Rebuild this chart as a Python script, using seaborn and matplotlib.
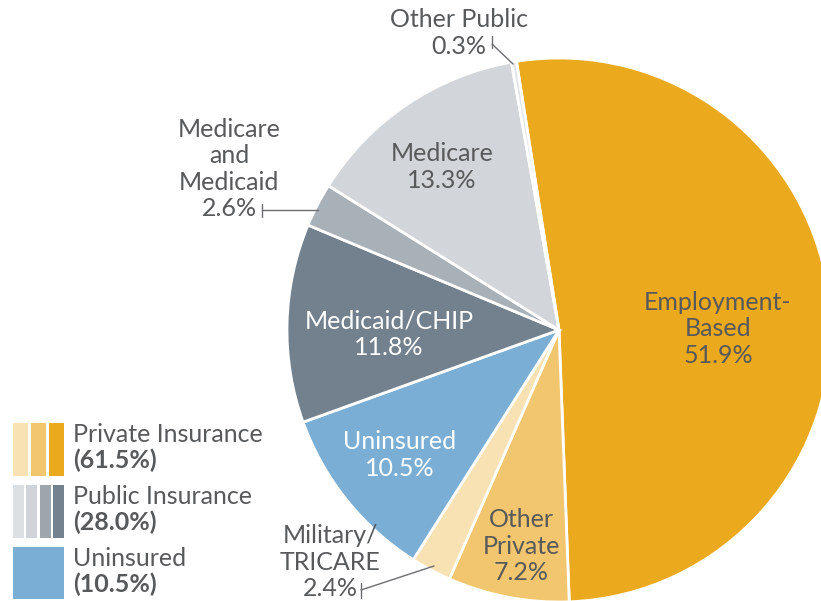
import matplotlib
matplotlib.use("Agg")
import matplotlib.pyplot as plt
import seaborn as sns

# coverage shares (%)
categories = ["Employment-\nBased", "Other\nPrivate", "Military/\nTRICARE", "Uninsured",
              "Medicaid/CHIP", "Medicare\nand\nMedicaid", "Medicare", "Other Public"]
shares = [51.9, 7.2, 2.4, 10.5, 11.8, 2.6, 13.3, 0.3]

groups = ["Private Insurance", "Public Insurance", "Uninsured"]
group_shares = [61.5, 28.0, 10.5]

slice_colors = ["#EBA91E", "#F2C66E", "#F8E1B3", "#7BAED4",
                "#73818E", "#A8B0B8", "#D2D5D9", "#E3E5E8"]
group_colors = [["#F8E1B3", "#F2C66E", "#EBA91E"],
                ["#DDE0E3", "#D0D3D7", "#9DA5AD", "#74828F"],
                ["#7BAED4"]]

sns.set_theme(style="white")
plt.rcParams["font.family"] = ["Lato", "DejaVu Sans"]
TXT = "#58595B"
W, H = 821, 601

fig = plt.figure(figsize=(W / 100, H / 100), dpi=100)
ax = fig.add_axes([0, 0, 1, 1])

cx, cy, r = 559, H - 330, 272
ax.pie(shares, colors=slice_colors, startangle=99, counterclock=False,
       center=(cx, cy), radius=r, frame=True,
       wedgeprops=dict(edgecolor="white", linewidth=2))
ax.set_xlim(0, W)
ax.set_ylim(0, H)
ax.set_aspect("equal")
ax.axis("off")

fs = 18


def lab(i, x, y, color=TXT, ha="center"):
    ax.text(x, H - y, f"{categories[i]}\n{shares[i]}%", ha=ha, va="center",
            fontsize=fs, color=color, linespacing=1.18)


lab(0, 718, 329)
lab(1, 521, 546)
lab(2, 330, 562)
lab(3, 400, 455, color="white")
lab(4, 389, 334, color="white")
lab(5, 229, 169)
lab(6, 442, 167)
lab(7, 459, 33)

# leader lines
lc = "#6D6E71"
ax.plot([492, 492], [H - 36, H - 48], color=lc, lw=1)
ax.plot([492, 513], [H - 44, H - 64], color=lc, lw=1)
ax.plot([262, 262], [H - 204, H - 217], color=lc, lw=1)
ax.plot([262, 318], [H - 210, H - 210], color=lc, lw=1)
ax.plot([361, 361], [H - 583, H - 598], color=lc, lw=1)
ax.plot([361, 434], [H - 590, H - 566], color=lc, lw=1)

# legend swatches
rows = [(423, 476), (485, 538), (547, 599)]
for g, (top, bot) in enumerate(rows):
    cols = group_colors[g]
    n = len(cols)
    x0, x1, gap = 12.7, 64, 2.5
    w = (x1 - x0 - gap * (n - 1)) / n
    for k, c in enumerate(cols):
        ax.add_patch(plt.Rectangle((x0 + k * (w + gap), H - bot), w, bot - top,
                                   facecolor=c, edgecolor="none"))
    ax.text(73, H - (top + 12), groups[g], ha="left", va="center",
            fontsize=fs, color=TXT)
    ax.text(73, H - (top + 37), f"({group_shares[g]:.1f}%)", ha="left",
            va="center", fontsize=fs, color=TXT, fontweight="bold")

fig.savefig("out.png", dpi=100)
